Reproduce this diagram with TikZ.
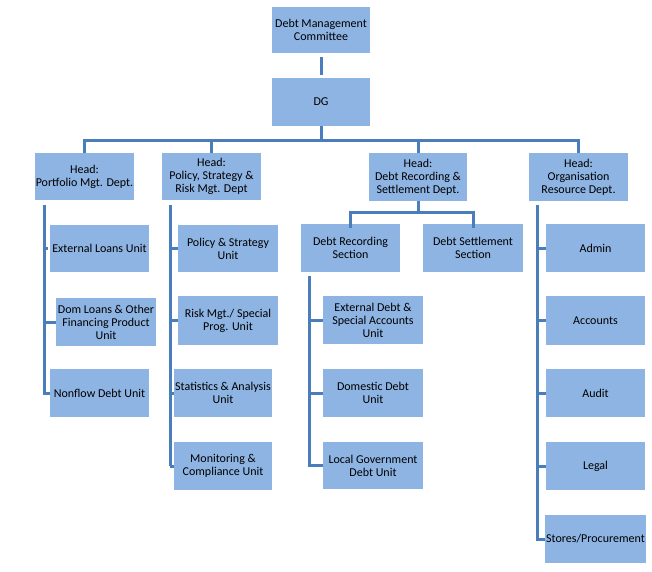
\documentclass[tikz,border=0pt]{standalone}
\usepackage{fontspec}
\setmainfont{Carlito}
\definecolor{boxfill}{HTML}{8EB4E3}
\definecolor{linecol}{HTML}{4A7EBB}
\begin{document}
\begin{tikzpicture}[x=1pt,y=-1pt,
  box/.style={fill=boxfill,draw=none,rectangle,inner sep=1pt,align=center,
    font=\fontsize{12}{13}\selectfont},
  conn/.style={draw=linecol,line width=3pt}]
\useasboundingbox (0,0) rectangle (652,571);
\fill[white] (0,0) rectangle (652,571);
% helper: box by corners
\newcommand{\mybox}[6]{\node[box,minimum width=#4-#2,minimum height=#5-#3] (#1) at ({(#2+#4)/2},{(#3+#5)/2}) {#6};}
\mybox{dmc}{272}{7}{370}{53}{Debt Management\\Committee}
\mybox{dg}{272}{78}{370}{126}{DG}
\mybox{h1}{35}{153}{134}{200}{Head:\\Portfolio Mgt. Dept.}
\mybox{h2}{162}{153}{261}{200}{Head:\\Policy, Strategy \&\\Risk Mgt. Dept}
\mybox{h3}{369}{153}{467}{201}{Head:\\Debt Recording \&\\Settlement Dept.}
\mybox{h4}{529}{153}{628}{201}{Head:\\Organisation\\Resource Dept.}
% portfolio units
\mybox{a1}{50}{225}{149}{272}{External Loans Unit}
\mybox{a2}{56}{298}{156}{346}{Dom Loans \& Other\\Financing Product\\Unit}
\mybox{a3}{50}{369}{149}{417}{Nonflow Debt Unit}
% policy units
\mybox{b1}{178}{225}{278}{272}{Policy \& Strategy\\Unit}
\mybox{b2}{178}{296}{278}{345}{Risk Mgt./ Special\\Prog. Unit}
\mybox{b3}{174}{369}{272}{417}{Statistics \& Analysis\\Unit}
\mybox{b4}{174}{442}{272}{490}{Monitoring \&\\Compliance Unit}
% debt recording
\mybox{s1}{301}{224}{400}{272}{Debt Recording\\Section}
\mybox{s2}{423}{224}{523}{272}{Debt Settlement\\Section}
\mybox{c1}{323}{296}{423}{344}{External Debt \&\\Special Accounts\\Unit}
\mybox{c2}{323}{369}{423}{417}{Domestic Debt\\Unit}
\mybox{c3}{323}{442}{423}{489}{Local Government\\Debt Unit}
% org resource
\mybox{d1}{546}{224}{645}{272}{Admin}
\mybox{d2}{546}{296}{645}{345}{Accounts}
\mybox{d3}{546}{369}{645}{417}{Audit}
\mybox{d4}{546}{442}{645}{490}{Legal}
\mybox{d5}{546}{515}{645}{563}{Stores/Procurement}
% connectors
\draw[conn,shorten <=4pt,shorten >=3pt] (dmc.south) -- (dg.north);
\coordinate (bus) at (321,140);
\draw[conn] (dg.south) -- (dg.south |- bus);
\draw[conn] (h1.north) -- (h1.north |- bus) -| (h4.north);
\draw[conn] (h2.north) -- (h2.north |- bus);
\draw[conn] (h3.north) -- (h3.north |- bus);
% portfolio
\coordinate (l1) at (44,205);
\draw[conn] (l1) |- (a3.west);
\draw[conn] (l1 |- a1.west) -- ([xshift=-2pt]a1.west);
\draw[conn] (l1 |- a2.west) -- (a2.west);
% policy
\coordinate (l2) at (170,205);
\draw[conn] (l2) -- (l2 |- b4.west);
\draw[conn] (l2 |- b1.west) -- (b1.west);
\draw[conn] (l2 |- b2.west) -- (b2.west);
\draw[conn] (l2 |- b3.west) -- (b3.west);
\draw[conn] (l2 |- b4.west) -- (b4.west);
% debt recording
\coordinate (sb) at (418,212);
\draw[conn] (h3.south) -- (sb);
\draw[conn] ([yshift=-4pt]s1.north) |- (sb) -| ([yshift=-4pt]s2.north);
\coordinate (l3) at (309,276);
\draw[conn] (l3) |- (c3.west);
\draw[conn] (l3 |- c1.west) -- (c1.west);
\draw[conn] (l3 |- c2.west) -- (c2.west);
% org resource
\coordinate (l4) at (537,205);
\draw[conn] (l4) |- (d5.west);
\draw[conn] (l4 |- d1.west) -- (d1.west);
\draw[conn] (l4 |- d2.west) -- (d2.west);
\draw[conn] (l4 |- d3.west) -- (d3.west);
\draw[conn] (l4 |- d4.west) -- (d4.west);
% redraw boxes on top
\end{tikzpicture}
\end{document}
